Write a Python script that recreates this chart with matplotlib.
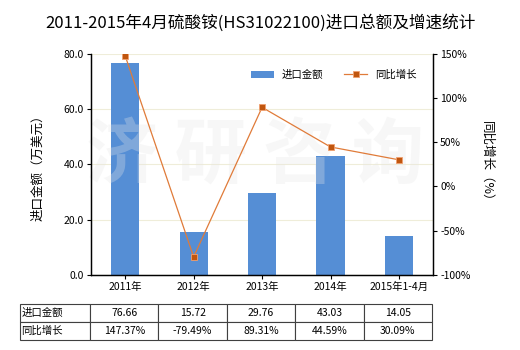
import matplotlib
matplotlib.use("Agg")
import matplotlib.pyplot as plt
import numpy as np

plt.rcParams['font.family'] = ['Noto Sans CJK SC', 'DejaVu Sans']
plt.rcParams['axes.unicode_minus'] = False

# data
categories = ["2011年", "2012年", "2013年", "2014年", "2015年1-4月"]
import_value = [76.66, 15.72, 29.76, 43.03, 14.05]        # 万美元
yoy_growth = [147.37, -79.49, 89.31, 44.59, 30.09]        # %
value_labels = ["76.66", "15.72", "29.76", "43.03", "14.05"]
growth_labels = ["147.37%", "-79.49%", "89.31%", "44.59%", "30.09%"]

bar_color = "#558ed5"
line_color = "#e07b39"
marker_color = "#c0560f"

fig = plt.figure(figsize=(5.2, 3.5), dpi=100)
ax = fig.add_axes([0.175, 0.214, 0.658, 0.633])
ax2 = ax.twinx()

x = np.arange(len(categories))
ax.bar(x, import_value, width=0.41, color=bar_color, zorder=2, label="进口金额")
ax.set_xlim(-0.5, len(categories) - 0.5)
ax.set_ylim(0, 80)
ax.set_yticks([0, 20, 40, 60, 80])
ax.set_yticklabels([f"{v:.1f}" for v in [0, 20, 40, 60, 80]])
ax.yaxis.grid(True, color="#efedd9", linewidth=0.8, zorder=0)
ax.set_axisbelow(True)
ax.set_xticks(x)
ax.set_xticklabels(categories)
ax.tick_params(axis="both", labelsize=7.5, length=3, width=0.8, pad=2)
ax.set_ylabel("进口金额（万美元）", fontsize=9, labelpad=14)

ax2.plot(x, yoy_growth, color=line_color, linewidth=0.9, marker="s", markersize=4.5,
         markerfacecolor=marker_color, markeredgecolor="#f0a070", markeredgewidth=0.6,
         zorder=3, label="同比增长")
ax2.set_ylim(-100, 150)
ax2.set_yticks([-100, -50, 0, 50, 100, 150])
ax2.set_yticklabels([f"{v}%" for v in [-100, -50, 0, 50, 100, 150]])
ax2.tick_params(axis="y", labelsize=7.5, length=3, width=0.8, pad=2)
ax2.set_ylabel("同比增长（%）", fontsize=9, rotation=270, labelpad=16)

for a in (ax, ax2):
    a.spines["top"].set_visible(False)
    for s in ("left", "right", "bottom"):
        a.spines[s].set_linewidth(0.9)
        a.spines[s].set_color("black")

# faint watermark
ax.text(0.48, 0.53, "济 研 咨 询", transform=ax.transAxes, fontsize=52, color="#e6e6e6",
        alpha=0.3, ha="center", va="center", fontweight="bold", zorder=2.5)

# legend
h1, l1 = ax.get_legend_handles_labels()
h2, l2 = ax2.get_legend_handles_labels()
ax2.legend(h1 + h2, l1 + l2, loc="upper right", bbox_to_anchor=(0.98, 0.97), ncol=2,
           frameon=False, fontsize=7.5, handlelength=2.2, columnspacing=2.0,
           handletextpad=0.8)

fig.suptitle("2011-2015年4月硫酸铵(HS31022100)进口总额及增速统计", fontsize=12, y=0.96)

# data table under the chart
cell_text = [["进口金额"] + value_labels, ["同比增长"] + growth_labels]
first_w = 70 / 412
other_w = (1 - first_w) / len(categories)
tbl = ax.table(cellText=cell_text, cellLoc="center",
               colWidths=[first_w] + [other_w] * len(categories),
               bbox=[-0.2076, -0.293, 1.2046, 0.162])
tbl.auto_set_font_size(False)
tbl.set_fontsize(7.5)
for (r, c), cell in tbl.get_celld().items():
    cell.set_edgecolor("#404040")
    cell.set_linewidth(0.8)
    if c == 0:
        cell.set_text_props(ha="left")
        cell.PAD = 0.02

fig.savefig("out.png", dpi=100)
